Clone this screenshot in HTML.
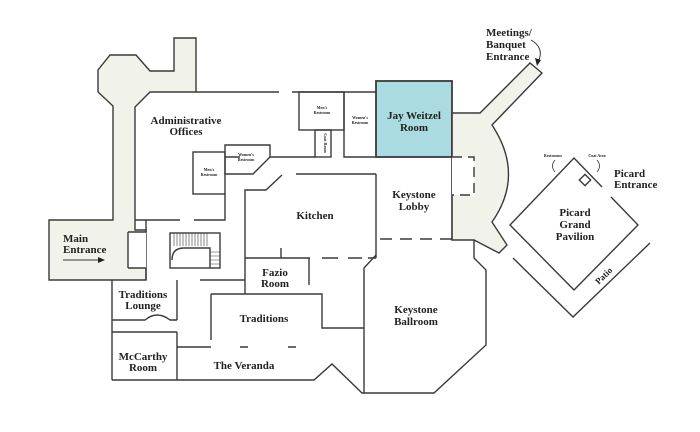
<!DOCTYPE html>
<html><head><meta charset="utf-8"><style>
html,body{margin:0;padding:0;background:#fff;}
svg{display:block;}
text{font-family:"Liberation Serif",serif;font-weight:bold;fill:#222;font-size:11px;text-anchor:middle;}
.s{font-size:4px;}
</style></head><body>
<svg width="700" height="432" viewBox="0 0 700 432">
<g fill="none" stroke="#3a3a3a" stroke-width="1.4">
<!-- left corridor -->
<polygon fill="#f1f2ea" points="174,38 196,38 196,92 150,92 135,107 135,230 146,230 146,280 49,280 49,220 113,220 113,106 98,92 98,70 110,55 136,55 150,71 174,71"/>
<rect x="128" y="232" width="18" height="36" fill="#fff" stroke="none"/>
<path d="M128,232 H146 M128,232 V268 M128,268 H146 M146,220 V232 M146,268 V280"/>
<!-- top walls -->
<path d="M196,92 H279 M292,92 H376"/>
<rect x="299" y="92" width="45" height="38"/>
<rect x="315" y="130" width="16" height="27"/>
<path d="M344,92 V157 H376"/>
<rect x="376" y="81" width="76" height="76" fill="#a9dbe0" stroke-width="1.8"/>
<path d="M283,157 H315 M240,157 H225"/>
<path d="M296,174 H376"/>
<!-- admin inner -->
<rect x="193" y="152" width="32" height="42"/>
<polygon points="225,145 270,145 270,157 253,174 225,174"/>
<path d="M270,157 H283 M225,194 V220 H194 M135,220 H180"/>
<!-- kitchen -->
<path d="M245,258 V190 H266 L282,175"/>
<path d="M376,174 V258"/>
<path d="M245,258 H310 M322,258 H338 M348,258 H362 M368,258 H376"/>
<!-- lobby -->
<path d="M376,239 H452" stroke-dasharray="12,8" stroke-dashoffset="-4"/>
<!-- curved corridor -->
<path fill="#f1f2ea" d="M452,113 H480 L530,63 L542,73 L492,125 Q525,175 492,222 L507,245 L499,253 L474,240 H452 Z"/>
<path d="M452,113 V240"/>
<path fill="#fff" d="M452,157 H474 V195 H452" stroke-dasharray="10,6"/>
<!-- ballroom -->
<path d="M376,255 L364,268 V393 H434 L486,345 V270 L474,258 V240"/>
<!-- fazio / traditions -->
<path d="M245,258 V294 M309,258 V285 M281,248 V258"/>
<path d="M200,280 H245 M211,294 H322 V328 H364"/>
<path d="M211,294 V340 M177,280 V320 M112,280 V380"/>
<path d="M112,320 H145 Q157,310 170,320 H177"/>
<path d="M112,332 H177 M177,332 V340"/>
<path d="M112,380 H314 L332,364 L362,393 H364"/>
<path d="M177,340 V380 M177,347 H211 M240,347 H248 M288,347 H296"/>
<!-- stairs -->
<rect x="170" y="233" width="50" height="35"/>
<path d="M172,260 Q172,248 184,248 H210 V268" />
<g stroke-width="0.6"><path d="M174,233 V246 M177,233 V246 M180,233 V246 M183,233 V246 M186,233 V246 M189,233 V246 M192,233 V246 M195,233 V246 M198,233 V246 M201,233 V246 M204,233 V246 M207,233 V246 M210,252 H220 M210,256 H220 M210,260 H220 M210,264 H220"/></g>
<!-- picard -->
<path d="M602,187 L574,158 L510,225 L574,290 L638,225 L611,197"/>
<path d="M513,258 L573,317 L650,243"/>
<rect x="581" y="176" width="8" height="8" transform="rotate(45 585 180)"/>
<path d="M555,160 Q550,166 555,172 M597,160 Q602,166 597,172" stroke-width="0.8"/>
<!-- arrows -->
<path d="M63,260 H100" stroke-width="1"/>
<path d="M531,40 Q545,48 538,62" stroke-width="1"/>
</g>
<polygon points="105,260 98,257 98,263" fill="#222"/>
<polygon points="537,66 535,58 541,60" fill="#222"/>
<text x="186" y="124">Administrative</text><text x="186" y="135">Offices</text>
<text x="63" y="242" style="text-anchor:start">Main</text><text x="63" y="253" style="text-anchor:start">Entrance</text>
<text x="315" y="219">Kitchen</text>
<text x="414" y="119">Jay Weitzel</text><text x="414" y="131">Room</text>
<text x="414" y="198">Keystone</text><text x="414" y="210">Lobby</text>
<text x="275" y="276">Fazio</text><text x="275" y="287">Room</text>
<text x="143" y="298">Traditions</text><text x="143" y="309">Lounge</text>
<text x="264" y="322">Traditions</text>
<text x="416" y="313">Keystone</text><text x="416" y="325">Ballroom</text>
<text x="143" y="360">McCarthy</text><text x="143" y="371">Room</text>
<text x="244" y="369">The Veranda</text>
<text x="486" y="36" style="text-anchor:start">Meetings/</text><text x="486" y="48" style="text-anchor:start">Banquet</text><text x="486" y="60" style="text-anchor:start">Entrance</text>
<text x="614" y="177" style="text-anchor:start">Picard</text><text x="614" y="188" style="text-anchor:start">Entrance</text>
<text x="575" y="216">Picard</text><text x="575" y="228">Grand</text><text x="575" y="240">Pavilion</text>
<text x="603" y="279" transform="rotate(-45 603 275)" style="font-size:9px">Patio</text>
<text class="s" x="322" y="109">Men's</text><text class="s" x="322" y="114">Restroom</text>
<text class="s" x="360" y="119">Women's</text><text class="s" x="360" y="124">Restroom</text>
<text class="s" x="323" y="142" transform="rotate(90 323 143)">Coat Room</text>
<text class="s" x="246" y="156">Women's</text><text class="s" x="246" y="161">Restroom</text>
<text class="s" x="209" y="171">Men's</text><text class="s" x="209" y="176">Restroom</text>
<text class="s" x="553" y="157">Restrooms</text><text class="s" x="597" y="157">Coat Area</text>
</svg>
</body></html>
